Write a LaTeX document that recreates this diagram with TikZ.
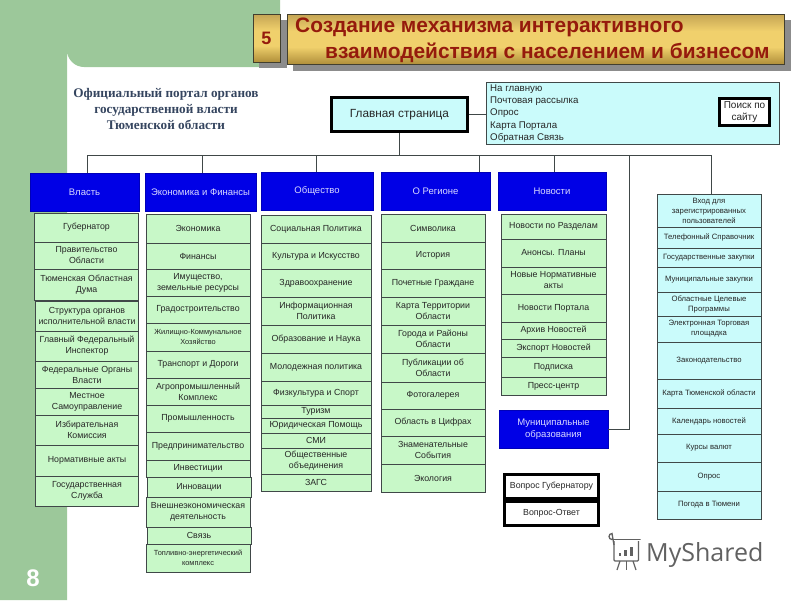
\documentclass[tikz,border=0pt]{standalone}
\usepackage{fontspec}
\setmainfont{Liberation Sans}
\newfontfamily\headfont{Liberation Serif}
\newfontfamily\logofont{Open Sans}
\definecolor{pagegreen}{HTML}{9CC89A}
\definecolor{listgreen}{HTML}{C8F8C8}
\definecolor{listcyan}{HTML}{CAFBFB}
\definecolor{headblue}{HTML}{0000E6}
\definecolor{titlered}{HTML}{951A0C}
\definecolor{linegray}{HTML}{404848}
\definecolor{headslate}{HTML}{35455F}
\definecolor{goldtop}{HTML}{C4A454}
\definecolor{goldmid}{HTML}{F0D06C}
\definecolor{goldlow}{HTML}{B08F3A}
\pgfdeclareverticalshading{goldshade}{100bp}{color(0bp)=(goldlow);color(25bp)=(goldlow);color(42bp)=(goldmid);color(58bp)=(goldmid);color(75bp)=(goldtop);color(100bp)=(goldtop)}
\tikzset{
	greenbox/.style={draw=linegray,fill=listgreen,line width=0.9pt,inner sep=0pt,align=center,text=black!85,font=\fontsize{8.8}{11}\selectfont},
	cyanbox/.style={draw=linegray,fill=listcyan,line width=0.9pt,inner sep=0pt,align=center,text=black!85,font=\fontsize{7.7}{10}\selectfont},
	bluebox/.style={draw=headblue!80!black,fill=headblue,inner sep=0pt,align=center,text=white!85!blue,font=\fontsize{9.5}{12.5}\selectfont},
	boldbox/.style={draw=black,line width=3pt,inner sep=0pt,align=center,text=black!85},
	goldbox/.style={draw=black!70!olive,line width=0.8pt,inner sep=0pt,shading=goldshade},
	titleline/.style={inner sep=0pt,anchor=west,text=titlered,font=\fontsize{20.9}{24}\selectfont\bfseries},
	wire/.style={draw=linegray,line width=1pt}
}
\begin{document}
\begin{tikzpicture}[x=1pt,y=-1pt]
	\useasboundingbox (0,0) rectangle (800,600);
	% background
	\fill [pagegreen] (0,0) -- (280,0) -- (280,67) -- (84,67) arc (90:180:17) -- (67,600) -- (0,600) -- cycle;
	\node [text=white,font=\fontsize{24}{24}\selectfont\bfseries] (pagenum) at (33,578) {8};
	% title
	\fill [black!45] (259,20) rectangle (287,68);
	\fill [black!45] (293,20) rectangle (791,71);
	\node [goldbox,minimum width=27pt,minimum height=48pt,text=titlered,font=\fontsize{18}{20}\selectfont\bfseries] (num) at (266.5,38) {5};
	\node [goldbox,minimum width=497pt,minimum height=50pt] (titlebox) at (535.5,39) {};
	\node [titleline] (titlea) at (295,27) {Создание механизма интерактивного};
	\node [titleline] (titleb) at (325,52.5) {взаимодействия с населением и бизнесом};
	\node [text=headslate,font=\fontsize{13.2}{16}\selectfont\headfont\bfseries,align=center,inner sep=0pt] (portal) at (166,109) {Официальный портал органов\\государственной власти\\Тюменской области};
	% top boxes
	\node [boldbox,fill=listcyan,minimum width=136pt,minimum height=34pt,font=\fontsize{11.8}{14}\selectfont] (main) at (399.5,114.5) {Главная страница};
	\node [draw=linegray,fill=listcyan,line width=0.9pt,minimum width=293pt,minimum height=62pt] (infobox) at (632.5,113) {};
	\node [inner sep=0pt,anchor=west,align=left,text=black!85,font=\fontsize{9.7}{12.4}\selectfont] (infotext) at (490,113.5) {На главную\\Почтовая рассылка\\Опрос\\Карта Портала\\Обратная Связь};
	\node [boldbox,fill=white,minimum width=50pt,minimum height=27pt,font=\fontsize{10}{12.5}\selectfont] (search) at (744.5,112) {Поиск по\\сайту};
	% blue headers
	\node [bluebox,minimum width=109pt,minimum height=38pt] (vlast) at (84.5,192) {Власть};
	\node [bluebox,minimum width=111pt,minimum height=38pt] (econ) at (200.5,192) {Экономика и Финансы};
	\node [bluebox,minimum width=112pt,minimum height=38pt] (soc) at (317,191) {Общество};
	\node [bluebox,minimum width=109pt,minimum height=38pt] (region) at (435.5,191) {О Регионе};
	\node [bluebox,minimum width=108pt,minimum height=38pt] (news) at (552,191) {Новости};
	\node [bluebox,minimum width=109pt,minimum height=38pt] (munic) at (553.5,429) {Муниципальные\\образования};
	% first column
	\node [greenbox,minimum width=104pt,minimum height=29pt] (gov) at (86.5,227.5) {Губернатор};
	\node [greenbox,minimum width=104pt,minimum height=27pt] (pravo) at (86.5,255.5) {Правительство\\Области};
	\node [greenbox,minimum width=104pt,minimum height=31pt] (duma) at (86.5,284.5) {Тюменская Областная\\Дума};
	\node [greenbox,minimum width=103pt,minimum height=30pt] (struct) at (87,316) {Структура органов\\исполнительной власти};
	\node [greenbox,minimum width=103pt,minimum height=30pt] (insp) at (87,346) {Главный Федеральный\\Инспектор};
	\node [greenbox,minimum width=103pt,minimum height=27pt] (feder) at (87,374.5) {Федеральные Органы\\Власти};
	\node [greenbox,minimum width=103pt,minimum height=27pt] (local) at (87,401.5) {Местное\\Самоуправление};
	\node [greenbox,minimum width=103pt,minimum height=30pt] (elect) at (87,430) {Избирательная\\Комиссия};
	\node [greenbox,minimum width=103pt,minimum height=31pt] (acts) at (87,460.5) {Нормативные акты};
	\node [greenbox,minimum width=103pt,minimum height=30pt] (service) at (87,491) {Государственная\\Служба};
	% second column
	\node [greenbox,minimum width=104pt,minimum height=29pt] (eco) at (198,228.5) {Экономика};
	\node [greenbox,minimum width=104pt,minimum height=26pt] (fin) at (198,256) {Финансы};
	\node [greenbox,minimum width=104pt,minimum height=27pt] (prop) at (198,282.5) {Имущество,\\земельные ресурсы};
	\node [greenbox,minimum width=104pt,minimum height=27pt] (build) at (198,309.5) {Градостроительство};
	\node [greenbox,minimum width=104pt,minimum height=28pt,font=\fontsize{7.4}{10}\selectfont] (house) at (198,337) {Жилищно-Коммунальное\\Хозяйство};
	\node [greenbox,minimum width=104pt,minimum height=27pt] (road) at (198,364.5) {Транспорт и Дороги};
	\node [greenbox,minimum width=104pt,minimum height=27pt] (agro) at (198,391.5) {Агропромышленный\\Комплекс};
	\node [greenbox,minimum width=104pt,minimum height=27pt] (indus) at (198,418.5) {Промышленность};
	\node [greenbox,minimum width=104pt,minimum height=28pt] (biz) at (198,446) {Предпринимательство};
	\node [greenbox,minimum width=104pt,minimum height=17pt] (invest) at (198,468.5) {Инвестиции};
	\node [greenbox,minimum width=104pt,minimum height=20pt] (innov) at (199,487) {Инновации};
	\node [greenbox,minimum width=104pt,minimum height=30pt] (trade) at (198,512) {Внешнеэкономическая\\деятельность};
	\node [greenbox,minimum width=104pt,minimum height=17pt] (link) at (199,535.5) {Связь};
	\node [greenbox,minimum width=104pt,minimum height=28pt,font=\fontsize{7.4}{10}\selectfont] (fuel) at (198,558) {Топливно-энергетический\\комплекс};
	% third column
	\node [greenbox,minimum width=110pt,minimum height=28pt] (spol) at (316,229) {Социальная Политика};
	\node [greenbox,minimum width=110pt,minimum height=26pt] (cult) at (316,256) {Культура и Искусство};
	\node [greenbox,minimum width=110pt,minimum height=28pt] (health) at (316,283) {Здравоохранение};
	\node [greenbox,minimum width=110pt,minimum height=28pt] (infopol) at (316,311) {Информационная\\Политика};
	\node [greenbox,minimum width=110pt,minimum height=28pt] (edu) at (316,339) {Образование и Наука};
	\node [greenbox,minimum width=110pt,minimum height=28pt] (youth) at (316,367) {Молодежная политика};
	\node [greenbox,minimum width=110pt,minimum height=24pt] (sport) at (316,393) {Физкультура и Спорт};
	\node [greenbox,minimum width=110pt,minimum height=13pt] (tour) at (316,411.5) {Туризм};
	\node [greenbox,minimum width=110pt,minimum height=15pt] (legal) at (316,425.5) {Юридическая Помощь};
	\node [greenbox,minimum width=110pt,minimum height=15pt] (media) at (316,440.5) {СМИ};
	\node [greenbox,minimum width=110pt,minimum height=26pt] (ngo) at (316,461) {Общественные\\объединения};
	\node [greenbox,minimum width=110pt,minimum height=17pt] (zags) at (316,482.5) {ЗАГС};
	% fourth column
	\node [greenbox,minimum width=104pt,minimum height=28pt] (symb) at (433,228) {Символика};
	\node [greenbox,minimum width=104pt,minimum height=27pt] (hist) at (433,255.5) {История};
	\node [greenbox,minimum width=104pt,minimum height=28pt] (citizen) at (433,283) {Почетные Граждане};
	\node [greenbox,minimum width=104pt,minimum height=28pt] (map) at (433,311) {Карта Территории\\Области};
	\node [greenbox,minimum width=104pt,minimum height=28pt] (city) at (433,339) {Города и Районы\\Области};
	\node [greenbox,minimum width=104pt,minimum height=29pt] (publ) at (433,367.5) {Публикации об\\Области};
	\node [greenbox,minimum width=104pt,minimum height=27pt] (photo) at (433,395.5) {Фотогалерея};
	\node [greenbox,minimum width=104pt,minimum height=27pt] (stat) at (433,422.5) {Область в Цифрах};
	\node [greenbox,minimum width=104pt,minimum height=28pt] (events) at (433,450) {Знаменательные\\События};
	\node [greenbox,minimum width=104pt,minimum height=28pt] (ecol) at (433,478) {Экология};
	% fifth column
	\node [greenbox,minimum width=105pt,minimum height=25pt] (nsect) at (553.5,226.5) {Новости по Разделам};
	\node [greenbox,minimum width=105pt,minimum height=28pt] (plans) at (553.5,253) {Анонсы. Планы};
	\node [greenbox,minimum width=105pt,minimum height=27pt] (norm) at (553.5,280.5) {Новые Нормативные\\акты};
	\node [greenbox,minimum width=105pt,minimum height=28pt] (nport) at (553.5,308) {Новости Портала};
	\node [greenbox,minimum width=105pt,minimum height=17pt] (arch) at (553.5,330.5) {Архив Новостей};
	\node [greenbox,minimum width=105pt,minimum height=18pt] (export) at (553.5,348) {Экспорт Новостей};
	\node [greenbox,minimum width=105pt,minimum height=20pt] (subs) at (553.5,367) {Подписка};
	\node [greenbox,minimum width=105pt,minimum height=18pt] (press) at (553.5,386) {Пресс-центр};
	% question boxes
	\node [boldbox,fill=white,minimum width=94pt,minimum height=24pt,font=\fontsize{8.8}{11}\selectfont] (ask) at (551.5,486.5) {Вопрос Губернатору};
	\node [boldbox,fill=white,minimum width=94pt,minimum height=24pt,font=\fontsize{8.8}{11}\selectfont] (answer) at (551.5,513.5) {Вопрос-Ответ};
	% sixth column
	\node [cyanbox,minimum width=104pt,minimum height=33pt] (login) at (709,210.5) {Вход для\\зарегистрированных\\пользователей};
	\node [cyanbox,minimum width=104pt,minimum height=21pt] (phone) at (709,237.5) {Телефонный Справочник};
	\node [cyanbox,minimum width=104pt,minimum height=19pt] (gzak) at (709,257.5) {Государственные закупки};
	\node [cyanbox,minimum width=104pt,minimum height=25pt] (mzak) at (709,279.5) {Муниципальные закупки};
	\node [cyanbox,minimum width=104pt,minimum height=24pt] (prog) at (709,304) {Областные Целевые\\Программы};
	\node [cyanbox,minimum width=104pt,minimum height=26pt] (etrade) at (709,329) {Электронная Торговая\\площадка};
	\node [cyanbox,minimum width=104pt,minimum height=37pt] (law) at (709,360.5) {Законодательство};
	\node [cyanbox,minimum width=104pt,minimum height=29pt] (kmap) at (709,393.5) {Карта Тюменской области};
	\node [cyanbox,minimum width=104pt,minimum height=26pt] (cal) at (709,421) {Календарь новостей};
	\node [cyanbox,minimum width=104pt,minimum height=28pt] (curr) at (709,448) {Курсы валют};
	\node [cyanbox,minimum width=104pt,minimum height=29pt] (poll) at (709,476.5) {Опрос};
	\node [cyanbox,minimum width=104pt,minimum height=28pt] (meteo) at (709,505) {Погода в Тюмени};
	% connectors
	\coordinate (busl) at (87,155);
	\coordinate (busr) at (711.5,155);
	\coordinate (busa) at (202,155);
	\coordinate (busb) at (316,155);
	\coordinate (busc) at (479,155);
	\coordinate (busd) at (554,155);
	\coordinate (buse) at (629,155);
	\draw [wire] (main.east) -- (infobox.west |- main.east);
	\draw [wire] (main.south) -- (main.south |- busl);
	\draw [wire] (busl) -- (busr);
	\draw [wire] (busl) -- (busl |- vlast.north);
	\draw [wire] (busa) -- (busa |- econ.north);
	\draw [wire] (busb) -- (busb |- soc.north);
	\draw [wire] (busc) -- (busc |- region.north);
	\draw [wire] (busd) -- (busd |- news.north);
	\draw [wire] (buse) -- (buse |- munic.east) -- (munic.east);
	\draw [wire] (busr) -- (busr |- login.north);
	% logo
	\node [inner sep=0pt,anchor=west,text=black!62,font=\fontsize{25}{30}\selectfont\logofont] (logo) at (646,555) {MyShared};
	\draw [black!62,line width=1.7pt,line cap=round] (612,539.5) -- (640,539.5);
	\draw [black!62,line width=1.3pt] (612,539.5) arc (90:270:3) -- (614,545);
	\draw [black!62,line width=1.3pt,rounded corners=1pt] (614,541) -- (614,561) -- (638.5,561) -- (638.5,541);
	\fill [black!62] (619,552.5) rectangle (621,556);
	\fill [black!62] (624,550) rectangle (627,556);
	\fill [black!62] (629.5,547) rectangle (633,556);
	\draw [black!62,line width=1.2pt] (620,561) -- (617,570);
	\draw [black!62,line width=1.2pt] (626.5,561) -- (626.5,570);
	\draw [black!62,line width=1.2pt] (633,561) -- (636,570);
\end{tikzpicture}
\end{document}
